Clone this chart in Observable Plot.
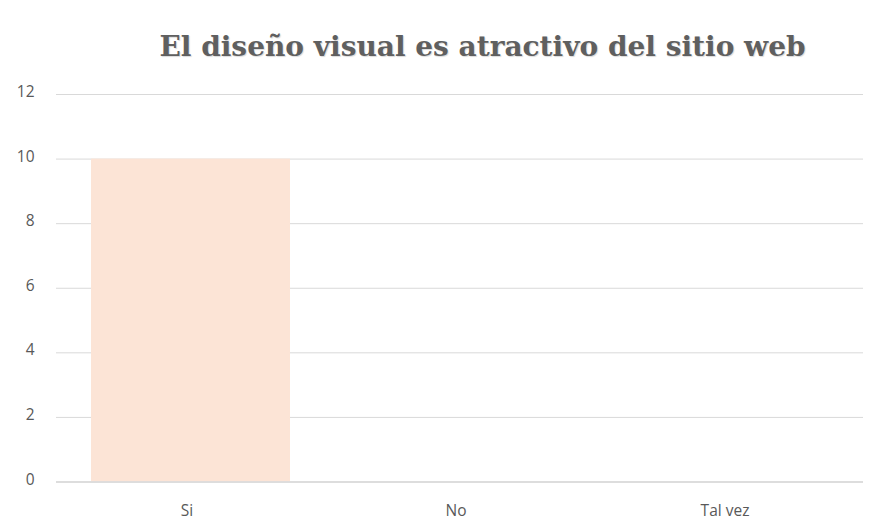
<!DOCTYPE html>
<html>
<head>
<meta charset="utf-8">
<script src="https://cdn.jsdelivr.net/npm/d3@7"></script>
<script src="https://cdn.jsdelivr.net/npm/@observablehq/plot@0.6"></script>
<style>
  html, body { margin: 0; padding: 0; background: #fff; }
  #title { height: 75px; width: 879px; box-sizing: border-box; padding-top: 33px; text-align: center;
    font-family: "DejaVu Serif", serif; font-size: 28px; font-weight: bold; color: #5f5f5f; padding-left: 86px;
    text-shadow: 1px 1px 1px rgba(0,0,0,0.15); line-height: 1; }
</style>
</head>
<body>
<div id="title">El diseño visual es atractivo del sitio web</div>
<div id="chart"></div>
<script>
const categories = ["Si", "No", "Tal vez"];
const values = [10, 0, 0];
const yTicks = [0, 2, 4, 6, 8, 10, 12];

const data = categories.map((c, i) => ({category: c, value: values[i]}));

const chart = Plot.plot({
  width: 879,
  height: 454,
  marginLeft: 56,
  marginRight: 16,
  marginTop: 19,
  marginBottom: 47.5,
  style: {fontFamily: "'Open Sans', sans-serif", fontSize: "15.5px", color: "#595959", background: "#fff"},
  x: {domain: categories, paddingInner: 0.26, paddingOuter: 0.13, label: null, tickSize: 0, tickPadding: 23},
  y: {domain: [0, 12], ticks: yTicks, label: null, tickSize: 0, tickPadding: 22},
  marks: [
    Plot.gridY(yTicks, {stroke: "#d9d9d9", strokeOpacity: 1, strokeWidth: 1}),
    Plot.barY(data, {x: "category", y: "value", fill: "#fce4d6"}),
    Plot.ruleY([0], {stroke: "#d9d9d9", strokeWidth: 1.5})
  ]
});
chart.querySelectorAll("g[aria-label='y-axis tick label'] text").forEach(t => t.setAttribute("dy", "-0.15em"));
chart.querySelectorAll("g[aria-label='x-axis tick label'] text").forEach(t => t.setAttribute("transform", t.getAttribute("transform") + " translate(-4,0)"));
document.getElementById("chart").appendChild(chart);
</script>
</body>
</html>
